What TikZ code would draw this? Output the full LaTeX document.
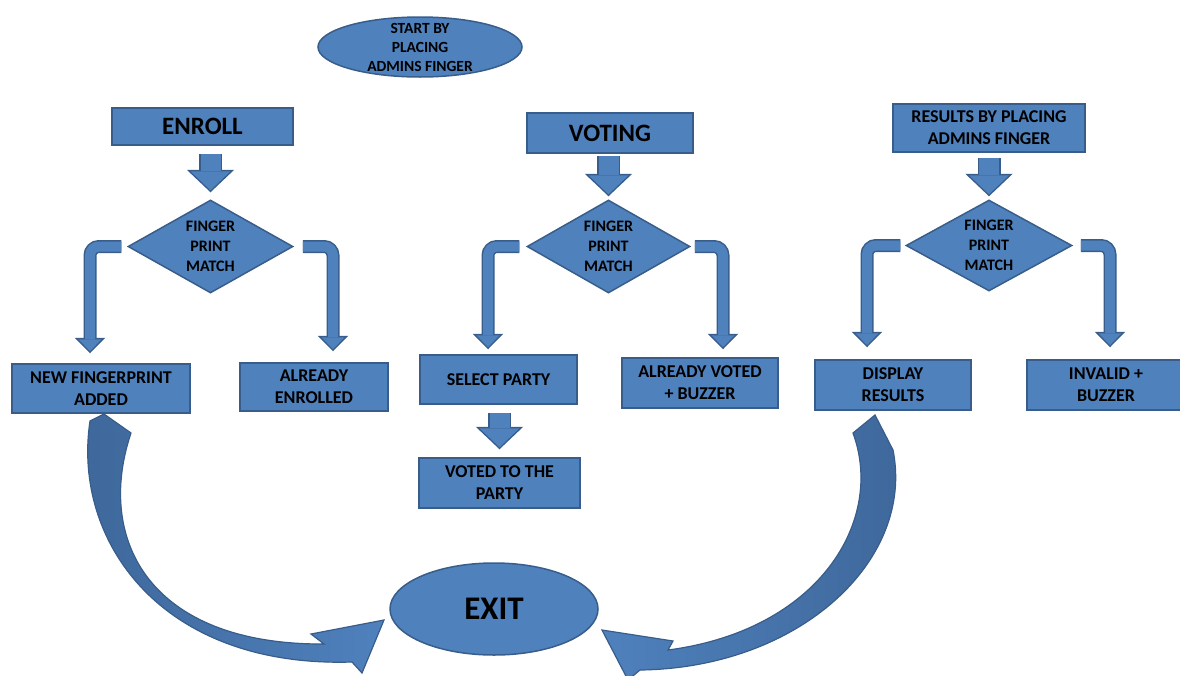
\documentclass[tikz,border=0pt]{standalone}
\usepackage{fontspec}
\setmainfont{Carlito}
\usepackage{xcolor}
\usepackage{tikz}
\usetikzlibrary{positioning, shapes.geometric, arrows.meta, calc}
\definecolor{BoxBlue}{RGB}{79,129,189}
\definecolor{BoxEdge}{RGB}{56,93,138}
\definecolor{BoxDark}{RGB}{62,103,154}
\tikzset{
	block/.style={rectangle, draw=BoxEdge, line width=1.5pt, fill=BoxBlue, inner sep=0pt, align=center, font=\bfseries\fontsize{18}{22}\selectfont},
	title/.style={block, font=\bfseries\fontsize{25}{30}\selectfont},
	oval/.style={ellipse, draw=BoxEdge, line width=1.5pt, fill=BoxBlue, inner sep=0pt},
	check/.style={diamond, draw=BoxEdge, line width=1.5pt, fill=BoxBlue, inner sep=0pt},
	checktext/.style={align=center, font=\bfseries\fontsize{16}{20}\selectfont},
	fat/.style n args={3}{draw=BoxBlue, line width=#1, -{Triangle[width=#2, length=#3, line width=0pt]}, shorten >=2pt,
		preaction={draw=BoxEdge, line width=#1+3pt, shorten >=0pt, -{Triangle[width=#2+7.5pt, length=#3+3.5pt, line width=0pt]}}},
	downarrow/.style={fat={20pt}{40pt}{19pt}},
	bentarrow/.style={fat={10pt}{23pt}{12pt}, rounded corners=9pt},
	swoop/.style={draw=BoxEdge, line width=1.2pt},
}

\begin{document}
\begin{tikzpicture}[x=1pt, y=-1pt]
	\useasboundingbox (0,0) rectangle (1180,675);

	% big curved arrows into exit
	\draw[swoop, left color=BoxDark, right color=BoxBlue] (90,421) -- (104,414) -- (131,433) .. controls (95,540) and (150,645) .. (324,644) -- (311,634) -- (384,620) -- (362,673) -- (352,662) .. controls (160,668) and (72,540) .. cycle;
	\draw[swoop, left color=BoxBlue, right color=BoxDark] (853,433) -- (875,415) -- (893,450) .. controls (915,560) and (800,668) .. (640,670) -- (628,680) -- (602,630) -- (673,641) -- (668,650) .. controls (820,630) and (885,520) .. cycle;

	\node[oval, minimum width=204pt, minimum height=60pt, label={[checktext, font=\bfseries\fontsize{15.5}{19}\selectfont]center:START BY\\PLACING\\ADMINS FINGER}] (start) at (420,47) {};

	\node[title, minimum width=181pt, minimum height=37pt] (enroll) at (202.5,126.5) {ENROLL};
	\node[title, minimum width=166pt, minimum height=40pt] (voting) at (610,133) {VOTING};
	\node[block, minimum width=192pt, minimum height=48pt] (results) at (989,128) {RESULTS BY PLACING\\ADMINS FINGER};

	\node[check, minimum width=165pt, minimum height=93pt, label={[checktext]center:FINGER\\PRINT\\MATCH}] (fp1) at (210.5,246.5) {};
	\node[check, minimum width=163pt, minimum height=93pt, label={[checktext]center:FINGER\\PRINT\\MATCH}] (fp2) at (608.5,246.5) {};
	\node[check, minimum width=166pt, minimum height=91pt, label={[checktext]center:FINGER\\PRINT\\MATCH}] (fp3) at (989,245.5) {};

	\node[block, minimum width=178pt, minimum height=49pt] (newfp) at (101,388.5) {NEW FINGERPRINT\\ADDED};
	\node[block, minimum width=148pt, minimum height=48pt] (enrolled) at (314,387) {ALREADY\\ENROLLED};
	\node[block, minimum width=157pt, minimum height=49pt] (select) at (498.5,379.5) {SELECT PARTY};
	\node[block, minimum width=161pt, minimum height=50pt] (voted) at (499.5,483) {VOTED TO THE\\PARTY};
	\node[block, minimum width=156pt, minimum height=50pt] (alrvoted) at (700,383) {ALREADY VOTED\\+ BUZZER};
	\node[block, minimum width=156pt, minimum height=50pt] (display) at (893,385) {DISPLAY\\RESULTS};
	\node[block, minimum width=158pt, minimum height=50pt] (invalid) at (1106,385) {INVALID +\\BUZZER};

	\node[oval, minimum width=208pt, minimum height=92pt, font=\bfseries\fontsize{33}{36}\selectfont] (exit) at (494,609) {EXIT};

	% straight arrows
	\draw[downarrow, shorten <=8pt] (fp1.north |- enroll.south) -- ([yshift=7pt]fp1.north);
	\draw[downarrow, shorten <=2pt] (fp2.north |- voting.south) -- ([yshift=3pt]fp2.north);
	\draw[downarrow, shorten <=5pt] (fp3.north |- results.south) -- ([yshift=3pt]fp3.north);
	\draw[downarrow, shorten <=8pt] (voted.north |- select.south) -- ([yshift=8pt]voted.north);

	% bent arrows out of the checks
	\draw[bentarrow, shorten <=6pt] (fp1.west) -| ([xshift=-11pt, yshift=10pt]newfp.north);
	\draw[bentarrow, shorten <=9pt] (fp1.east) -| ([xshift=19pt, yshift=11pt]enrolled.north);
	\draw[bentarrow, shorten <=7pt] (fp2.west) -| ([xshift=-10.5pt, yshift=5pt]select.north);
	\draw[bentarrow, shorten <=4pt] (fp2.east) -| ([xshift=23pt, yshift=8pt]alrvoted.north);
	\draw[bentarrow, shorten <=5pt] (fp3.west) -| ([xshift=-26pt, yshift=12pt]display.north);
	\draw[bentarrow, shorten <=8pt] (fp3.east) -| ([xshift=4pt, yshift=12pt]invalid.north);
\end{tikzpicture}
\end{document}
